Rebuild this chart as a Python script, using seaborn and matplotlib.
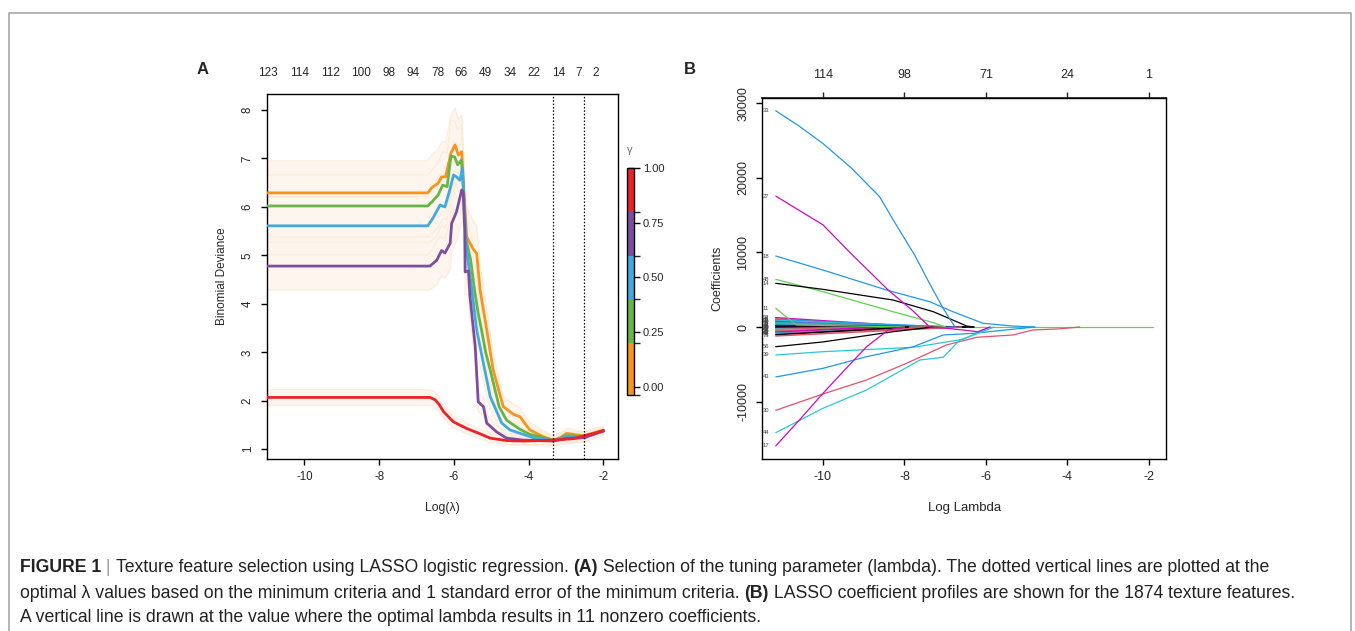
import numpy as np
import pandas as pd
import matplotlib as mpl
import matplotlib.pyplot as plt
import seaborn as sns
from matplotlib.lines import Line2D

sns.set_theme(style="ticks")
plt.rcParams['font.family'] = ['Liberation Sans', 'DejaVu Sans']
plt.rcParams['axes.unicode_minus'] = False

W, H = 1355, 631

# ---------------- Panel A data: CV binomial deviance per gamma ----------------
orange_x = [-11.0, -6.70, -6.59, -6.42, -6.33, -6.22, -6.08, -5.97, -5.88, -5.79, -5.74, -5.66, -5.50, -5.39, -5.30,
            -5.12, -4.95, -4.68, -4.40, -4.23, -3.97, -3.61, -3.34, -3.15, -2.98, -2.75, -2.55, -2.30, -2.0]
orange_y = [6.29, 6.29, 6.40, 6.49, 6.62, 6.62, 7.11, 7.28, 7.07, 7.14, 6.40, 5.39, 5.15, 5.04, 4.29,
            3.46, 2.64, 1.88, 1.72, 1.67, 1.40, 1.26, 1.19, 1.24, 1.33, 1.30, 1.28, 1.33, 1.40]
orange_se = [0.66, 0.66, 0.68, 0.70, 0.72, 0.72, 0.76, 0.76, 0.74, 0.75, 0.70, 0.62, 0.58, 0.56, 0.50,
             0.42, 0.34, 0.22, 0.20, 0.19, 0.15, 0.12, 0.10, 0.10, 0.10, 0.10, 0.09, 0.09, 0.08]

green_x = [-11.0, -6.70, -6.58, -6.42, -6.30, -6.18, -6.08, -5.98, -5.90, -5.80, -5.74, -5.68, -5.55, -5.45,
           -5.35, -5.26, -5.15, -5.03, -4.79, -4.59, -4.23, -3.97, -3.61, -3.34, -3.00, -2.60, -2.30, -2.0]
green_y = [6.02, 6.02, 6.11, 6.25, 6.45, 6.42, 7.05, 7.03, 6.87, 6.97, 6.30, 5.35, 4.90, 4.30,
           3.80, 3.46, 3.00, 2.64, 1.88, 1.60, 1.41, 1.31, 1.24, 1.18, 1.28, 1.27, 1.30, 1.38]
green_se = [0.64, 0.64, 0.65, 0.67, 0.69, 0.69, 0.74, 0.74, 0.72, 0.73, 0.68, 0.60, 0.55, 0.50,
            0.46, 0.42, 0.38, 0.33, 0.22, 0.18, 0.15, 0.13, 0.11, 0.10, 0.10, 0.09, 0.09, 0.08]

blue_x = [-11.0, -6.70, -6.56, -6.37, -6.24, -6.10, -6.01, -5.93, -5.84, -5.77, -5.72, -5.66, -5.52, -5.39,
          -5.21, -5.03, -4.72, -4.50, -4.23, -3.80, -3.34, -3.00, -2.60, -2.30, -2.0]
blue_y = [5.61, 5.61, 5.77, 6.04, 6.00, 6.38, 6.66, 6.62, 6.55, 6.80, 5.90, 5.11, 4.29, 3.46,
          2.77, 2.09, 1.54, 1.40, 1.33, 1.22, 1.18, 1.25, 1.25, 1.30, 1.37]
blue_se = [0.60, 0.60, 0.62, 0.65, 0.65, 0.68, 0.70, 0.70, 0.69, 0.72, 0.65, 0.58, 0.50, 0.42,
           0.35, 0.28, 0.18, 0.15, 0.13, 0.11, 0.10, 0.10, 0.09, 0.09, 0.08]

purple_x = [-11.0, -6.64, -6.46, -6.33, -6.24, -6.10, -6.06, -5.93, -5.79, -5.75, -5.71, -5.70, -5.61, -5.57,
            -5.43, -5.35, -5.21, -5.12, -4.86, -4.59, -4.14, -3.34, -3.00, -2.50, -2.0]
purple_y = [4.78, 4.78, 4.90, 5.10, 5.05, 5.25, 5.66, 5.90, 6.35, 6.30, 5.52, 4.66, 4.68, 4.15,
            3.12, 1.98, 1.88, 1.54, 1.36, 1.23, 1.19, 1.17, 1.22, 1.24, 1.39]
purple_se = [0.49, 0.49, 0.50, 0.52, 0.52, 0.54, 0.58, 0.60, 0.64, 0.64, 0.57, 0.48, 0.48, 0.43,
             0.32, 0.20, 0.19, 0.16, 0.13, 0.11, 0.10, 0.10, 0.10, 0.09, 0.08]

red_x = [-11.0, -6.64, -6.50, -6.40, -6.28, -6.02, -5.66, -5.30, -5.03, -4.59, -4.14, -3.34, -2.80, -2.0]
red_y = [2.07, 2.07, 2.02, 1.93, 1.78, 1.57, 1.43, 1.32, 1.23, 1.18, 1.17, 1.19, 1.22, 1.38]
red_se = [0.16, 0.16, 0.16, 0.15, 0.14, 0.12, 0.11, 0.10, 0.09, 0.08, 0.08, 0.08, 0.08, 0.07]

lambda_min = -3.35
lambda_1se = -2.51
top_a_pos = [-10.99, -10.14, -9.30, -8.48, -7.74, -7.10, -6.43, -5.80, -5.16, -4.49, -3.85, -3.21, -2.67, -2.21]
top_a_lab = ['123', '114', '112', '100', '98', '94', '78', '66', '49', '34', '22', '14', '7', '2']

gamma_ticks = [0.0, 0.25, 0.5, 0.75, 1.0]
gamma_bounds = [-0.037, 0.2, 0.4, 0.6, 0.8, 1.0]
gamma_colors = ['#F7941D', '#66B646', '#3FA9E0', '#7D4E9F', '#EC2228']

# ---------------- Panel B data: coefficient paths ----------------
p33_x = [-11.16, -10.6, -10.0, -9.3, -8.61, -8.20, -7.75, -7.40, -7.05, -6.76]
p33_y = [29000, 27000, 24600, 21300, 17470, 13670, 9650, 6000, 2500, 0]
p27_x = [-11.16, -10.0, -9.34, -8.40, -7.80, -7.38, -6.9, -6.2, -5.9]
p27_y = [17560, 13700, 10000, 4960, 2200, 0, -200, -630, 0]
p18_x = [-11.16, -10.0, -8.44, -7.38, -6.81, -6.07, -5.34, -4.8]
p18_y = [9520, 7640, 4960, 3390, 2050, 500, 130, 0]
p48_x = [-11.16, -10.0, -8.28, -7.29, -7.0]
p48_y = [6390, 4730, 2050, 580, 0]
p14_x = [-11.16, -10.0, -8.28, -7.29, -6.47, -6.3]
p14_y = [5860, 5050, 3620, 2050, 130, 0]
p11_x = [-11.16, -10.65, -9.5, -8.0]
p11_y = [2500, 270, 150, 0]
p56_x = [-11.16, -10.0, -8.28, -7.3]
p56_y = [-2640, -2000, -630, 0]
p39_x = [-11.16, -10.0, -7.78, -6.56, -5.9]
p39_y = [-3750, -3310, -2720, -1650, 0]
p43_x = [-11.16, -10.0, -8.93, -7.78, -7.05, -6.31, -5.34, -4.8]
p43_y = [-6700, -5540, -3980, -2640, -1070, -850, -300, 0]
p30_x = [-11.16, -10.0, -8.93, -7.95, -6.97, -6.23, -5.34, -4.85, -4.2, -3.7]
p30_y = [-11170, -8980, -7100, -4870, -2410, -1380, -1070, -400, -250, 0]
p44_x = [-11.16, -10.0, -8.93, -7.62, -7.05, -6.64, -6.15, -5.8]
p44_y = [-14170, -10900, -8440, -4420, -4060, -1740, -760, 0]
p17_x = [-11.16, -10.58, -10.0, -9.43, -8.93, -8.40, -8.0]
p17_y = [-15950, -12470, -8890, -5540, -2640, -400, 0]
p1_x = [-11.16, -1.9]
p1_y = [0, 0]

# small coefficients bunched near zero: start value and log-lambda where they vanish
small_start = [1250, 1100, 980, 860, 740, 620, 500, 400, 300, 200, 100, 0, -100, -200, -320, -440, -560,
               -680, -800, -920, -1050, -1200]
small_zero = [-7.6, -8.0, -6.9, -7.3, -8.4, -6.6, -7.8, -7.2, -6.3, -6.6, -6.9, -6.3, -6.5, -7.5, -8.2,
              -7.0, -7.4, -8.6, -6.8, -7.0, -7.9, -6.6]
small_ids = ['52', '8', '61', '23', '90', '5', '36', '71', '2', '64', '9', '40', '19', '83', '7', '58',
             '26', '47', '12', '66', '3', '75']
top_b_pos = [-10, -8, -6, -4, -2]
top_b_lab = ['114', '98', '71', '24', '1']

R_BLACK, R_RED, R_GREEN, R_BLUE, R_CYAN, R_MAG = 'black', '#DF536B', '#61D04F', '#2297E6', '#28C8D8', '#CD0BBC'
small_cols = [R_MAG, R_RED, R_BLUE, R_CYAN, R_MAG, R_BLUE, R_GREEN, R_RED, R_CYAN, R_BLACK, R_MAG,
              R_BLACK, R_BLACK, R_CYAN, R_RED, R_GREEN, R_RED, R_MAG, R_BLUE, R_RED, R_BLACK, R_RED]

fig = plt.figure(figsize=(W / 100, H / 100), dpi=100)
fig.patch.set_facecolor('white')


def style_axes(ax, size):
    for s in ax.spines.values():
        s.set_visible(True)
        s.set_color('black')
        s.set_linewidth(1.0)
    ax.set_facecolor('white')
    ax.grid(False)
    ax.tick_params(axis='both', direction='out', length=4.5, width=1, color='black', labelsize=size, pad=4)
    ax.tick_params(axis='y', labelrotation=90, pad=5)
    for lab in ax.get_yticklabels():
        lab.set_va('center')


# ================= Panel A =================
axA = fig.add_axes([267 / W, 1 - 459 / H, 351 / W, 365 / H])
curves = [(orange_x, orange_y, orange_se, gamma_colors[0]),
          (green_x, green_y, green_se, gamma_colors[1]),
          (blue_x, blue_y, blue_se, gamma_colors[2]),
          (purple_x, purple_y, purple_se, gamma_colors[3]),
          (red_x, red_y, red_se, gamma_colors[4])]
for cx, cy, cs, _ in curves:
    cx, cy, cs = np.array(cx), np.array(cy), np.array(cs)
    axA.fill_between(cx, cy - cs, cy + cs, color='#FEF6EE', lw=0, zorder=1)
for cx, cy, cs, _ in curves:
    cx, cy, cs = np.array(cx), np.array(cy), np.array(cs)
    axA.plot(cx, cy + cs, color='#FBEBDA', lw=0.8, zorder=2)
    axA.plot(cx, cy - cs, color='#FBEBDA', lw=0.8, zorder=2)
for cx, cy, cs, col in curves:
    sns.lineplot(x=cx, y=cy, ax=axA, color=col, lw=2, estimator=None, sort=False, legend=False, zorder=3)
axA.axvline(lambda_min, color='black', ls=(0, (1.2, 1.5)), lw=0.9, zorder=4)
axA.axvline(lambda_1se, color='black', ls=(0, (1.2, 1.5)), lw=0.9, zorder=4)
axA.set_xlim(-11.0, -1.61)
axA.set_ylim(0.8, 8.33)
axA.set_xticks([-10, -8, -6, -4, -2])
axA.set_yticks([1, 2, 3, 4, 5, 6, 7, 8])
style_axes(axA, 8.3)
axA.set_xlabel('Log(\u03bb)', fontsize=8.7, labelpad=14)
axA.set_ylabel('Binomial Deviance', fontsize=8.5, labelpad=10)
for pos, lab in zip(top_a_pos, top_a_lab):
    axA.text(pos, 1.0575, lab, transform=axA.get_xaxis_transform(), ha='center', va='center', fontsize=8.5)

# colour bar for gamma
cax = fig.add_axes([627 / W, 1 - 395 / H, 7 / W, 227 / H])
cmap = mpl.colors.ListedColormap(gamma_colors)
norm = mpl.colors.BoundaryNorm(gamma_bounds, cmap.N)
cb = mpl.colorbar.ColorbarBase(cax, cmap=cmap, norm=norm, spacing='proportional', ticks=gamma_ticks)
cb.outline.set_linewidth(1.0)
cb.outline.set_edgecolor('black')
cax.set_yticklabels(['%.2f' % t for t in gamma_ticks])
cax.tick_params(direction='inout', length=9, width=1, labelsize=8, pad=2, color='black')
fig.text(630 / W, 1 - 150 / H, '\u03b3', ha='center', va='center', fontsize=8, color='#5A6A8A')

# ================= Panel B =================
axB = fig.add_axes([762.3 / W, 1 - 459 / H, 403.7 / W, 360.7 / H])
sns.lineplot(x=p1_x, y=p1_y, ax=axB, color=R_GREEN, lw=0.9, estimator=None, sort=False, legend=False)
for y0, xz, col in zip(small_start, small_zero, small_cols):
    sns.lineplot(x=[-11.16, xz], y=[y0, 0], ax=axB, color=col, lw=1.1, estimator=None, sort=False, legend=False)
major = [(p11_x, p11_y, R_GREEN), (p56_x, p56_y, R_BLACK), (p39_x, p39_y, R_CYAN), (p43_x, p43_y, R_BLUE),
         (p30_x, p30_y, R_RED), (p44_x, p44_y, R_CYAN), (p17_x, p17_y, R_MAG), (p48_x, p48_y, R_GREEN),
         (p14_x, p14_y, R_BLACK), (p18_x, p18_y, R_BLUE), (p27_x, p27_y, R_MAG), (p33_x, p33_y, R_BLUE)]
for mx, my, col in major:
    sns.lineplot(x=mx, y=my, ax=axB, color=col, lw=0.9, estimator=None, sort=False, legend=False)

lab_ids = ['33', '27', '18', '48', '14', '11', '56', '39', '43', '30', '44', '17']
lab_vals = [p33_y[0], p27_y[0], p18_y[0], p48_y[0], p14_y[0], p11_y[0], p56_y[0], p39_y[0], p43_y[0],
            p30_y[0], p44_y[0], p17_y[0]]
for lid, v in zip(lab_ids + small_ids, lab_vals + small_start):
    axB.text(-11.40, v, lid, fontsize=4.2, color='#444444', ha='center', va='center')

axB.set_xlim(-11.49, -1.58)
axB.set_ylim(-17700, 30670)
axB.set_xticks([-10, -8, -6, -4, -2])
axB.set_yticks([-10000, 0, 10000, 20000, 30000])
axB.set_yticklabels(['-10000', '0', '10000', '20000', '30000'])
style_axes(axB, 9)
axB.set_xlabel('Log Lambda', fontsize=9.5, labelpad=14)
axB.set_ylabel('Coefficients', fontsize=9, labelpad=10)
secB = axB.secondary_xaxis('top')
secB.set_xticks(top_b_pos)
secB.set_xticklabels(top_b_lab)
secB.tick_params(direction='out', length=4.5, width=1, labelsize=9, pad=8)

# panel letters
fig.text(203 / W, 1 - 70 / H, 'A', fontsize=12, fontweight='bold', ha='center', va='center')
fig.text(690 / W, 1 - 70 / H, 'B', fontsize=12, fontweight='bold', ha='center', va='center')

# border of the figure box
fig.add_artist(Line2D([9 / W, 9 / W, 1351 / W, 1351 / W], [-0.01, 1 - 13 / H, 1 - 13 / H, -0.01],
                      transform=fig.transFigure, color='#A8A8A8', lw=1.2))

# ---------------- caption ----------------
renderer = fig.canvas.get_renderer()
cap_lines = [
    [('FIGURE 1', True), (' | ', False), ('Texture feature selection using LASSO logistic regression. ', False),
     ('(A)', True), (' Selection of the tuning parameter (lambda). The dotted vertical lines are plotted at the', False)],
    [('optimal \u03bb values based on the minimum criteria and 1 standard error of the minimum criteria. ', False),
     ('(B)', True), (' LASSO coefficient profiles are shown for the 1874 texture features.', False)],
    [('A vertical line is drawn at the value where the optimal lambda results in 11 nonzero coefficients.', False)],
]
cap_y = [568, 593, 617]


def seg_width(txt, bold, size):
    kw = dict(fontsize=size, fontweight='bold' if bold else 'normal')
    t1 = fig.text(0, 0, '|' + txt + '|', **kw)
    t2 = fig.text(0, 0, '||', **kw)
    w = t1.get_window_extent(renderer).width - t2.get_window_extent(renderer).width
    t1.remove()
    t2.remove()
    return w


base = 12
w0 = sum(seg_width(t, b, base) for t, b in cap_lines[0])
cap_size = base * (1277 - 20) / w0
for parts, yy in zip(cap_lines, cap_y):
    x = 20
    for txt, bold in parts:
        col = '#999999' if txt.strip() == '|' else '#222222'
        fig.text(x / W, 1 - yy / H, txt, fontsize=cap_size, fontweight='bold' if bold else 'normal',
                 ha='left', va='center', color=col)
        x += seg_width(txt, bold, cap_size)

fig.savefig('out.png', dpi=100, facecolor='white')
